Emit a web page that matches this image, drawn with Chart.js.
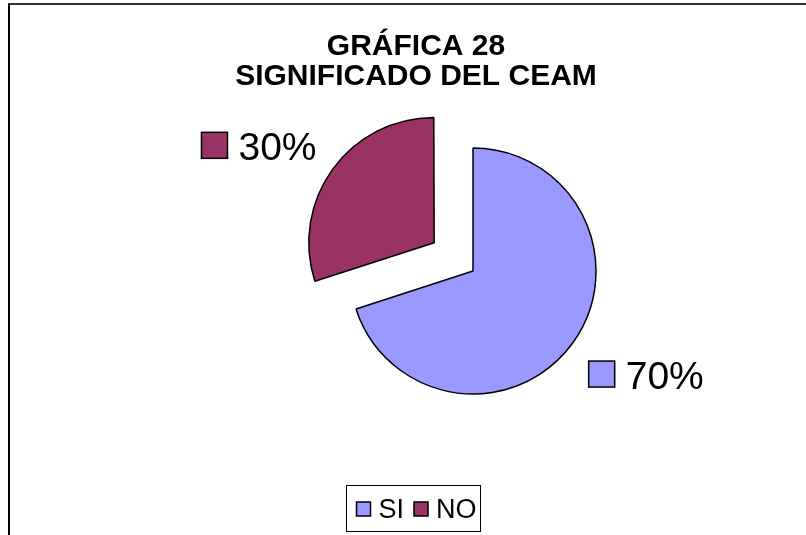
<!DOCTYPE html>
<html>
<head>
<meta charset="utf-8">
<script src="https://cdn.jsdelivr.net/npm/chart.js@4/dist/chart.umd.min.js"></script>
<style>
  html, body { margin: 0; padding: 0; background: #fff; overflow: hidden; }
  #frame { position: absolute; left: 8px; top: 3px; width: 830px; height: 560px;
           border-left: 2px solid #000; border-top: 2px solid #333; }
  #wrap { position: absolute; left: 0; top: 0; width: 806px; height: 535px; }
</style>
</head>
<body>
<div id="frame"></div>
<div id="wrap"><canvas id="grafica-28"></canvas></div>
<script>
// data
var titleLines = ['GRÁFICA 28', 'SIGNIFICADO DEL CEAM'];
var categories = ['SI', 'NO'];
var values = [70, 30];
var sliceColors = ['#9999FF', '#993366'];
// only the NO slice is pulled out (chart.js scales the offset by 1/4)
var sliceOffsets = [0, 192];

var FONT = '"Liberation Sans", Arial, sans-serif';

// title, outside labels and boxed legend, drawn the way excel does it
var excelText = {
  id: 'excelText',
  afterDraw: function (chart) {
    var ctx = chart.ctx;
    var meta = chart.getDatasetMeta(0);
    var ds = chart.data.datasets[0];
    var total = ds.data.reduce(function (a, b) { return a + b; }, 0);
    ctx.save();

    // title
    ctx.fillStyle = '#000';
    ctx.textAlign = 'center';
    ctx.textBaseline = 'alphabetic';
    ctx.font = 'bold 30px ' + FONT;
    titleLines.forEach(function (line, i) {
      ctx.fillText(line, 416, 55 + i * 30);
    });

    // percent labels next to each slice
    ctx.font = '39px ' + FONT;
    ctx.textAlign = 'left';
    meta.data.forEach(function (arc, i) {
      var mid = (arc.startAngle + arc.endAngle) / 2;
      var dx = Math.cos(mid), dy = Math.sin(mid);
      var shift = (arc.options.offset || 0) / 4;
      var vx = arc.x + dx * shift, vy = arc.y + dy * shift;
      var d = arc.outerRadius + shift * 0.05 + 20;
      var px = vx + dx * d, py = vy + dy * d;
      var txt = Math.round(ds.data[i] / total * 100) + '%';
      var box = 26, gap = 11;
      var w = box + gap + ctx.measureText(txt).width;
      var left = dx < 0 ? px - w : px;
      var base = dy < 0 ? py + 3 : py + 34;
      ctx.fillStyle = ds.backgroundColor[i];
      ctx.fillRect(left, base - 28, box, box);
      ctx.lineWidth = 1.5;
      ctx.strokeStyle = '#000';
      ctx.strokeRect(left, base - 28, box, box);
      ctx.fillStyle = '#000';
      ctx.fillText(txt, left + box + gap, base);
    });

    // legend in a box at the bottom
    ctx.font = '27px ' + FONT;
    var sq = 14, pad = 10, inner = 8, between = 10;
    var widths = chart.data.labels.map(function (l) { return ctx.measureText(l).width; });
    var lw = pad + 4;
    widths.forEach(function (tw, i) { lw += sq + inner + tw + (i < widths.length - 1 ? between : 0); });
    var lx = Math.round(413.5 - lw / 2) + 0.5, ly = 485.5, lh = 46;
    ctx.lineWidth = 1;
    ctx.strokeStyle = '#000';
    ctx.strokeRect(lx, ly, lw, lh);
    var x = lx + pad;
    chart.data.labels.forEach(function (l, i) {
      ctx.fillStyle = ds.backgroundColor[i];
      ctx.fillRect(x, 502, sq, sq);
      ctx.lineWidth = 1.5;
      ctx.strokeRect(x, 502, sq, sq);
      ctx.fillStyle = '#000';
      ctx.fillText(l, x + sq + inner, 518);
      x += sq + inner + widths[i] + between;
    });
    ctx.restore();
  }
};

new Chart(document.getElementById('grafica-28'), {
  type: 'pie',
  data: {
    labels: categories,
    datasets: [{
      data: values,
      backgroundColor: sliceColors,
      borderColor: '#000',
      borderWidth: 1.5,
      offset: sliceOffsets
    }]
  },
  options: {
    responsive: true,
    maintainAspectRatio: false,
    animation: false,
    events: [],
    radius: 123,
    layout: {
      padding: { left: 140, right: 0, top: 100, bottom: 93 }
    },
    plugins: {
      legend: { display: false },
      title: { display: false },
      tooltip: { enabled: false }
    }
  },
  plugins: [excelText]
});
</script>
</body>
</html>
